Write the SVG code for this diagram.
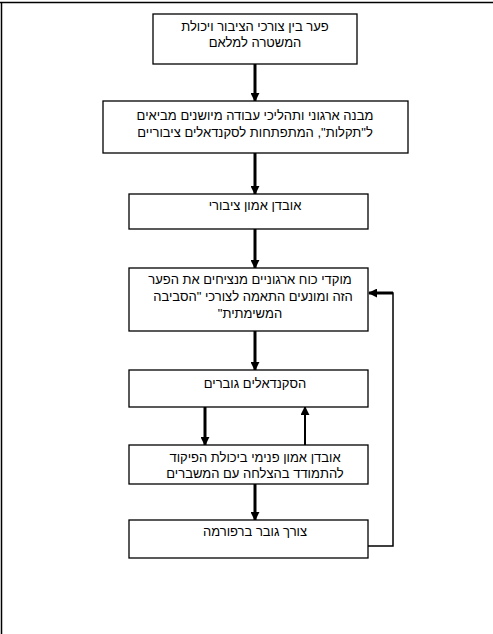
<svg xmlns="http://www.w3.org/2000/svg" width="493" height="634" viewBox="0 0 493 634">
<style>
.box{fill:#fff;stroke:#000;stroke-width:1.3}
.t{font-family:"Liberation Sans","DejaVu Sans",sans-serif;font-size:13px;fill:#000;text-anchor:middle;direction:rtl}
.a{stroke:#000;stroke-width:3;fill:none}
.a2{stroke:#000;stroke-width:2;fill:none}
.thin{stroke:#000;stroke-width:1.5;fill:none}
</style>
<defs>
<marker id="ah" viewBox="0 0 10 10" refX="9" refY="5" markerWidth="3" markerHeight="3" orient="auto" markerUnits="strokeWidth">
<path d="M0,0 L10,5 L0,10 Z" fill="#000"/>
</marker>
<marker id="ah2" viewBox="0 0 10 10" refX="9" refY="5" markerWidth="4.5" markerHeight="4.5" orient="auto" markerUnits="strokeWidth">
<path d="M0,0 L10,5 L0,10 Z" fill="#000"/>
</marker>
</defs>
<rect width="493" height="634" fill="#fff"/>
<g id="frame">
<path class="thin" d="M0,2.5 H493 M1.5,2.5 V634"/>
</g>
<g id="connectors">
<path class="a" d="M255,64 V101" marker-end="url(#ah)"/>
<path class="a" d="M255,153 V194" marker-end="url(#ah)"/>
<path class="a" d="M255,229 V268" marker-end="url(#ah)"/>
<path class="a" d="M255,331 V370" marker-end="url(#ah)"/>
<path class="a" d="M255,484 V520" marker-end="url(#ah)"/>
<path class="a" d="M205,407 V445" marker-end="url(#ah)"/>
<path class="a2" d="M305,445 V407" marker-end="url(#ah2)"/>
<path class="thin" d="M368,546 H393 V293 H380"/>
<path class="a" d="M393,293 H369" marker-end="url(#ah)"/>
</g>
<g id="n1">
<rect class="box" x="153" y="14" width="204" height="50"/>
<text class="t" x="255" y="31">פער בין צורכי הציבור ויכולת</text>
<text class="t" x="255" y="47">המשטרה למלאם</text>
</g>
<g id="n2">
<rect class="box" x="103" y="101" width="305" height="52"/>
<text class="t" x="255" y="120">מבנה ארגוני ותהליכי עבודה מיושנים מביאים</text>
<text class="t" x="255" y="137">ל"תקלות", המתפתחות לסקנדאלים ציבוריים</text>
</g>
<g id="n3">
<rect class="box" x="129" y="194" width="239" height="35"/>
<text class="t" x="255" y="210">אובדן אמון ציבורי</text>
</g>
<g id="n4">
<rect class="box" x="129" y="268" width="239" height="63"/>
<text class="t" x="250" y="284">מוקדי כוח ארגוניים מנציחים את הפער</text>
<text class="t" x="253" y="301">הזה ומונעים התאמה לצורכי "הסביבה</text>
<text class="t" x="250" y="318">המשימתית"</text>
</g>
<g id="n5">
<rect class="box" x="129" y="370" width="239" height="37"/>
<text class="t" x="255" y="388">הסקנדאלים גוברים</text>
</g>
<g id="n6">
<rect class="box" x="129" y="445" width="239" height="39"/>
<text class="t" x="255" y="462">אובדן אמון פנימי ביכולת הפיקוד</text>
<text class="t" x="255" y="478">להתמודד בהצלחה עם המשברים</text>
</g>
<g id="n7">
<rect class="box" x="129" y="520" width="239" height="38"/>
<text class="t" x="255" y="536">צורך גובר ברפורמה</text>
</g>
</svg>
